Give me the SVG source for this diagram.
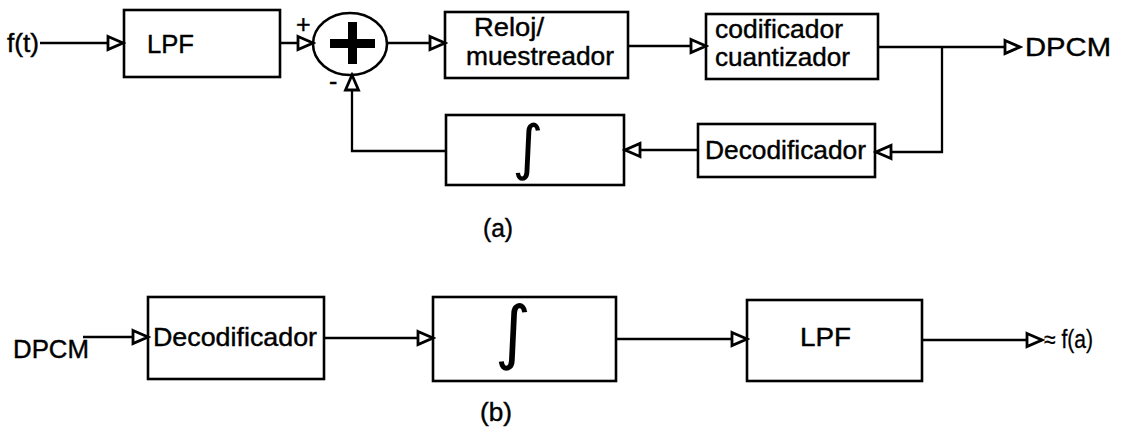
<svg xmlns="http://www.w3.org/2000/svg" width="1124" height="429" viewBox="0 0 1124 429">
<defs>
<marker id="arr" markerUnits="userSpaceOnUse" markerWidth="20" markerHeight="18" refX="17" refY="9" orient="auto">
<path d="M2,2.5 L17,9 L2,15.5 z" fill="#fff" stroke="#000" stroke-width="2.8" stroke-linejoin="miter"/>
</marker>
</defs>
<style>
.box{fill:none;stroke:#000;stroke-width:2.6}
.ln{fill:none;stroke:#000;stroke-width:2.3}
.t{font-family:"Liberation Sans",Arial,sans-serif;font-size:25px;fill:#000;stroke:#000;stroke-width:0.4}
.int{font-family:"DejaVu Sans",sans-serif;fill:#000;text-anchor:middle}
</style>
<rect width="1124" height="429" fill="#fff"/>
<g id="connectors">
<line class="ln" x1="40" y1="43" x2="123" y2="43" marker-end="url(#arr)"/>
<line class="ln" x1="280" y1="43" x2="313" y2="43" marker-end="url(#arr)"/>
<line class="ln" x1="387" y1="43" x2="445" y2="43" marker-end="url(#arr)"/>
<line class="ln" x1="628" y1="46" x2="706" y2="46" marker-end="url(#arr)"/>
<line class="ln" x1="878" y1="47" x2="1020" y2="47" marker-end="url(#arr)"/>
<path class="ln" d="M942,47 V152 H876" marker-end="url(#arr)"/>
<line class="ln" x1="698" y1="150" x2="625" y2="150" marker-end="url(#arr)"/>
<path class="ln" d="M446,151 H352 V75" marker-end="url(#arr)"/>
<line class="ln" x1="83" y1="337" x2="148" y2="337" marker-end="url(#arr)"/>
<line class="ln" x1="324" y1="338" x2="433" y2="338" marker-end="url(#arr)"/>
<line class="ln" x1="616" y1="339" x2="747" y2="339" marker-end="url(#arr)"/>
<line class="ln" x1="922" y1="340" x2="1042" y2="340" marker-end="url(#arr)"/>
</g>
<g id="in-ft"><text class="t" x="7" y="52" font-size="24" textLength="32" lengthAdjust="spacingAndGlyphs">f(t)</text></g>
<g id="lpf1"><rect class="box" x="124" y="10" width="156" height="67"/><text class="t" x="147" y="53" textLength="47" lengthAdjust="spacingAndGlyphs">LPF</text></g>
<g id="sum">
<ellipse cx="350" cy="44" rx="37" ry="31" fill="none" stroke="#000" stroke-width="2.6"/>
<rect x="330" y="39" width="45" height="9" fill="#000"/>
<rect x="348" y="22" width="9" height="42" fill="#000"/>
<text class="t" x="296" y="33" font-size="20">+</text>
<text class="t" x="329" y="90" font-size="24">-</text>
</g>
<g id="reloj"><rect class="box" x="445" y="12" width="183" height="66"/>
<text class="t" x="474" y="36" textLength="70" lengthAdjust="spacingAndGlyphs">Reloj/</text>
<text class="t" x="466" y="65" textLength="148" lengthAdjust="spacingAndGlyphs">muestreador</text></g>
<g id="codif"><rect class="box" x="706" y="14" width="172" height="65"/>
<text class="t" x="715" y="38" textLength="128" lengthAdjust="spacingAndGlyphs">codificador</text>
<text class="t" x="715" y="66" textLength="135" lengthAdjust="spacingAndGlyphs">cuantizador</text></g>
<g id="out-dpcm"><text class="t" x="1025" y="56" textLength="86" lengthAdjust="spacingAndGlyphs">DPCM</text></g>
<g id="decod1"><rect class="box" x="698" y="124" width="177" height="53"/>
<text class="t" x="705" y="159" textLength="161" lengthAdjust="spacingAndGlyphs">Decodificador</text></g>
<g id="integ1"><rect class="box" x="446" y="115" width="178" height="70"/>
<text class="int" x="528" y="168" font-size="60">∫</text></g>
<g id="label-a"><text class="t" x="483" y="237" font-size="24" textLength="30" lengthAdjust="spacingAndGlyphs">(a)</text></g>
<g id="in-dpcm"><text class="t" x="13" y="358" textLength="76" lengthAdjust="spacingAndGlyphs">DPCM</text></g>
<g id="decod2"><rect class="box" x="148" y="297" width="176" height="82"/>
<text class="t" x="153" y="346" textLength="164" lengthAdjust="spacingAndGlyphs">Decodificador</text></g>
<g id="integ2"><rect class="box" x="433" y="297" width="183" height="84"/>
<text class="int" x="513" y="356" font-size="70">∫</text></g>
<g id="lpf2"><rect class="box" x="747" y="300" width="175" height="81"/>
<text class="t" x="800" y="346" textLength="51" lengthAdjust="spacingAndGlyphs">LPF</text></g>
<g id="out-fa"><text class="t" x="1044" y="348" font-size="17" textLength="49" lengthAdjust="spacingAndGlyphs" style="stroke-width:0.3">≈ f(a)</text></g>
<g id="label-b"><text class="t" x="480" y="421" font-size="24" textLength="32" lengthAdjust="spacingAndGlyphs">(b)</text></g>
</svg>
